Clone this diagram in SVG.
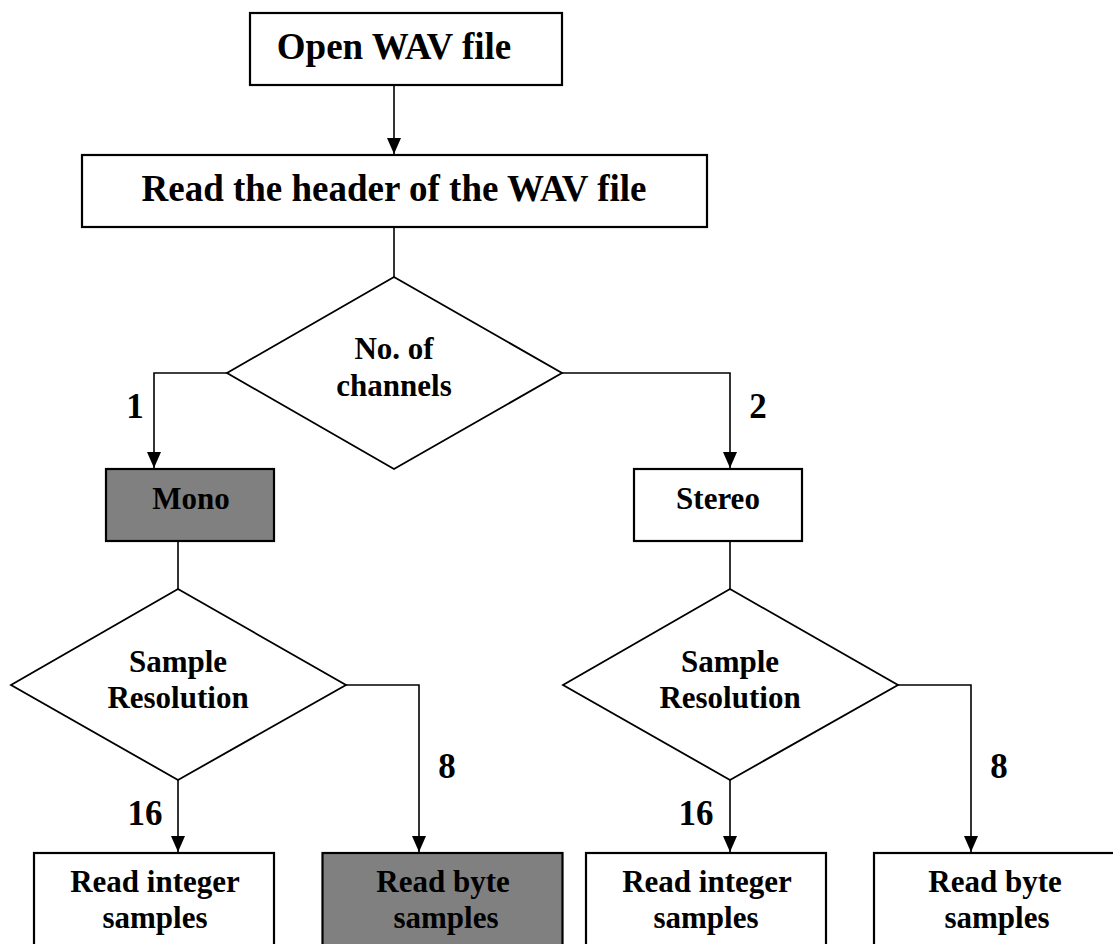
<svg xmlns="http://www.w3.org/2000/svg" width="1113" height="944" viewBox="0 0 1113 944">
<style>
text{font-family:"Liberation Serif","Times New Roman",serif;font-weight:bold;fill:#000;text-anchor:middle}
.box{fill:#fff;stroke:#000;stroke-width:2.2}
.gray{fill:#808080;stroke:#000;stroke-width:2.2}
.dia{fill:#fff;stroke:#000;stroke-width:1.8}
.ln{fill:none;stroke:#000;stroke-width:1.6}
.big{font-size:37px}
.mid{font-size:31px}
.lbl{font-size:35px}
</style>
<defs>
<marker id="ah" markerUnits="userSpaceOnUse" markerWidth="16" markerHeight="14" viewBox="0 0 16 14" refX="16" refY="7" orient="auto">
<path d="M0,0 L16,7 L0,14 Z" fill="#000"/>
</marker>
</defs>
<rect width="1113" height="944" fill="#fff"/>
<g id="connectors">
<line class="ln" x1="394" y1="85" x2="394" y2="154" marker-end="url(#ah)"/>
<line class="ln" x1="394" y1="227" x2="394" y2="277"/>
<polyline class="ln" points="227,373 154,373 154,468" marker-end="url(#ah)"/>
<polyline class="ln" points="562,373 730,373 730,468" marker-end="url(#ah)"/>
<line class="ln" x1="178" y1="541" x2="178" y2="589"/>
<line class="ln" x1="730" y1="541" x2="730" y2="589"/>
<line class="ln" x1="178" y1="780" x2="178" y2="852" marker-end="url(#ah)"/>
<polyline class="ln" points="346,685 419,685 419,852" marker-end="url(#ah)"/>
<line class="ln" x1="730" y1="780" x2="730" y2="852" marker-end="url(#ah)"/>
<polyline class="ln" points="898,685 971,685 971,852" marker-end="url(#ah)"/>
<text class="lbl" x="135" y="418">1</text>
<text class="lbl" x="758" y="418">2</text>
<text class="lbl" x="145" y="825">16</text>
<text class="lbl" x="447" y="778">8</text>
<text class="lbl" x="696" y="825">16</text>
<text class="lbl" x="999" y="778">8</text>
</g>
<g id="open">
<rect class="box" x="250" y="13" width="312" height="72"/>
<text class="big" x="394" y="59">Open WAV file</text>
</g>
<g id="header">
<rect class="box" x="82" y="155" width="625" height="72"/>
<text class="big" x="394" y="201">Read the header of the WAV file</text>
</g>
<g id="channels">
<polygon class="dia" points="394,277 562,373 394,469 227,373"/>
<text class="mid" x="394" y="359">No. of</text>
<text class="mid" x="394" y="396">channels</text>
</g>
<g id="mono">
<rect class="gray" x="106" y="469" width="168" height="72"/>
<text class="mid" x="191" y="509">Mono</text>
</g>
<g id="stereo">
<rect class="box" x="634" y="469" width="168" height="72"/>
<text class="mid" x="718" y="509">Stereo</text>
</g>
<g id="res-mono">
<polygon class="dia" points="178,589 346,685 178,780 11,685"/>
<text class="mid" x="178" y="672">Sample</text>
<text class="mid" x="178" y="708">Resolution</text>
</g>
<g id="res-stereo">
<polygon class="dia" points="730,589 898,685 730,780 563,685"/>
<text class="mid" x="730" y="672">Sample</text>
<text class="mid" x="730" y="708">Resolution</text>
</g>
<g id="int-mono">
<rect class="box" x="34" y="853" width="240" height="110"/>
<text class="mid" x="155" y="892">Read integer</text>
<text class="mid" x="155" y="928">samples</text>
</g>
<g id="byte-mono">
<rect class="gray" x="322.5" y="853" width="240" height="110"/>
<text class="mid" x="443" y="892">Read byte</text>
<text class="mid" x="446" y="928">samples</text>
</g>
<g id="int-stereo">
<rect class="box" x="586" y="853" width="240" height="110"/>
<text class="mid" x="707" y="892">Read integer</text>
<text class="mid" x="706" y="928">samples</text>
</g>
<g id="byte-stereo">
<rect class="box" x="874" y="853" width="260" height="110"/>
<text class="mid" x="995" y="892">Read byte</text>
<text class="mid" x="997" y="928">samples</text>
</g>
</svg>
